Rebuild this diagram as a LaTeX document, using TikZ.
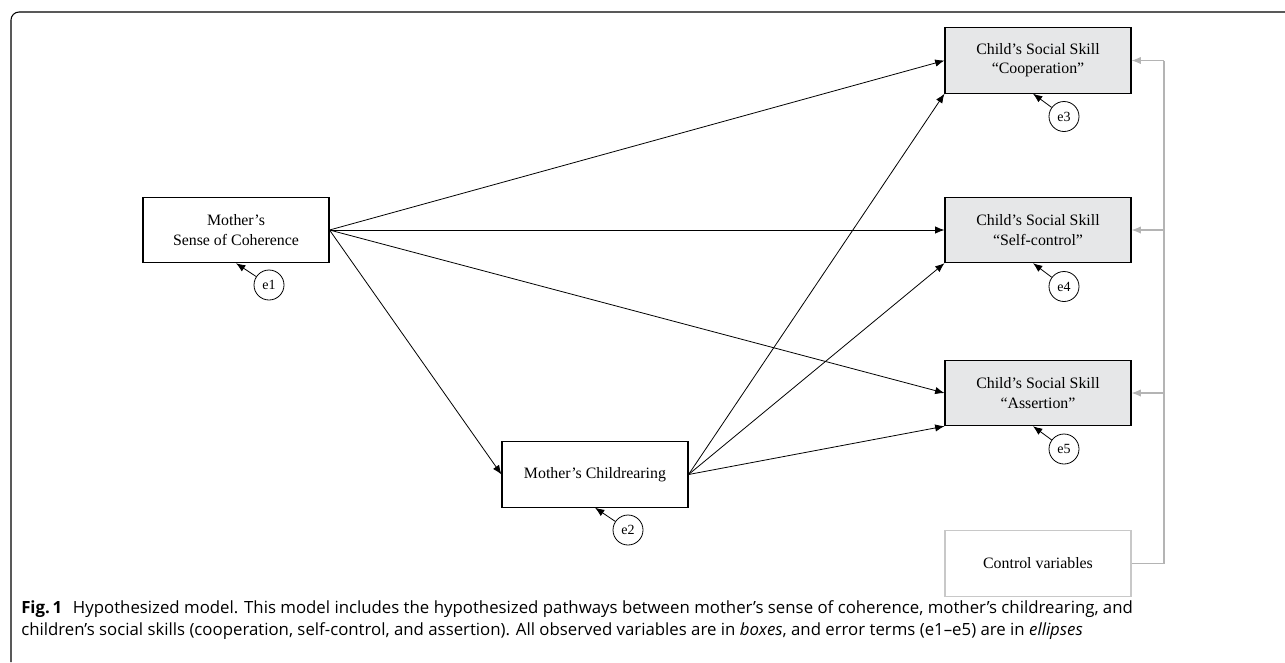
\documentclass[tikz,border=0pt]{standalone}
\usepackage{fontspec}
\setmainfont{Liberation Serif}
\newfontfamily\capfont{Open Sans}
\usepackage{xcolor}
\usepackage{tikz}
\usetikzlibrary{arrows.meta}
\usetikzlibrary{calc}
\definecolor{skillgray}{RGB}{230,231,232}
\definecolor{ctrlgray}{RGB}{180,180,180}
\definecolor{ctrlbox}{RGB}{200,200,200}
\tikzset{
    tnode/.style = {align=center, inner sep=0pt, text centered},
    var_node/.style = {tnode, rectangle, draw=black, line width=0.8pt, minimum width=139.5pt, minimum height=49pt, font=\fontsize{11.9}{14.5}\selectfont},
    skill_node/.style = {var_node, fill=skillgray},
    ctrl_node/.style = {var_node, draw=ctrlbox},
    err_node/.style = {tnode, circle, draw=black, line width=0.6pt, minimum size=22.5pt, font=\fontsize{10.5}{12}\selectfont},
    pathway/.style = {->, black, line width=0.6pt},
    ctrl_line/.style = {ctrlgray, line width=0.8pt},
    ctrl_path/.style = {ctrl_line, ->}
}

\begin{document}
\begin{tikzpicture}
    [x=0.75pt, y=-0.75pt, >={Latex[length=7pt,width=5.5pt]}]
    \useasboundingbox (0,0) rectangle (1285,662);

    % frame
    \draw [line width=0.8pt, rounded corners=6pt] (1285,12) -- (11,12) -- (11,662);

    % observed variables
    \node [var_node] (soc) at (236,230) {Mother’s\\Sense of Coherence};
    \node [var_node] (rear) at (595,474.5) {Mother’s Childrearing};
    \node [skill_node] (coop) at (1038,60.5) {Child’s Social Skill\\“Cooperation”};
    \node [skill_node] (self) at (1038,230) {Child’s Social Skill\\“Self-control”};
    \node [skill_node] (asrt) at (1038,393) {Child’s Social Skill\\“Assertion”};
    \node [ctrl_node] (ctrl) at (1038,563.5) {Control variables};

    % error terms
    \node [err_node] (e1) at (269,285) {e1};
    \node [err_node] (e2) at (628,530) {e2};
    \node [err_node] (e3) at (1064,116.5) {e3};
    \node [err_node] (e4) at (1064,286.5) {e4};
    \node [err_node] (e5) at (1064,449) {e5};

    % hypothesized pathways
    \draw [pathway] (soc.east) -- (coop.west);
    \draw [pathway] (soc.east) -- (self.west);
    \draw [pathway] (soc.east) -- (asrt.west);
    \draw [pathway] (soc.east) -- (rear.west);
    \draw [pathway] (rear.east) -- (coop.south west);
    \draw [pathway] (rear.east) -- (self.south west);
    \draw [pathway] (rear.east) -- (asrt.south west);

    % error terms to variables
    \draw [pathway] (e1) -- (soc.south);
    \draw [pathway] (e2) -- (rear.south);
    \draw [pathway] (e3) -- ($(coop.south)+(-5,0)$);
    \draw [pathway] (e4) -- ($(self.south)+(-5,0)$);
    \draw [pathway] (e5) -- ($(asrt.south)+(-5,0)$);

    % control variables
    \coordinate (bus) at (1164,60.5);
    \draw [ctrl_line] (ctrl.east) -| (bus);
    \draw [ctrl_path] (bus) -- (coop.east);
    \draw [ctrl_path] (bus |- self.east) -- (self.east);
    \draw [ctrl_path] (bus |- asrt.east) -- (asrt.east);

    % caption
    \node [anchor=base west, inner sep=0pt, align=left, font=\capfont\fontsize{12.6}{16}\selectfont] (cap) at (21,635)
        {\textbf{Fig.\,1}\hskip 8pt Hypothesized model. This model includes the hypothesized pathways between mother’s sense of coherence, mother’s childrearing, and\\
        children’s social skills (cooperation, self-control, and assertion). All observed variables are in \textit{boxes}, and error terms (e1–e5) are in \textit{ellipses}};
\end{tikzpicture}
\end{document}
